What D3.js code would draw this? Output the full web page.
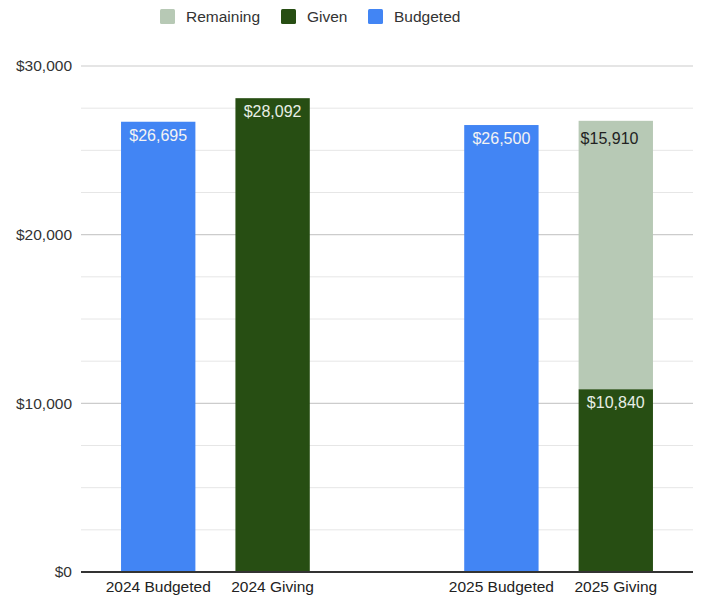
<!DOCTYPE html>
<html><head><meta charset="utf-8">
<script src="https://cdn.jsdelivr.net/npm/d3@7"></script>
<style>body{margin:0;background:#fff;font-family:"Liberation Sans",Arial,sans-serif;}</style>
</head><body><svg id="c" width="701" height="599"></svg>
<script>
const categories = ["2024 Budgeted", "2024 Giving", "", "2025 Budgeted", "2025 Giving"];
const budgeted = [26695, 0, 0, 26500, 0];
const given = [0, 28092, 0, 0, 10840];
const remaining = [0, 0, 0, 0, 15910];
const yTicks = [0, 10000, 20000, 30000];
const minorTicks = [2500, 5000, 7500, 12500, 15000, 17500, 22500, 25000, 27500];
const seriesNames = ["Remaining", "Given", "Budgeted"];
const colors = {Remaining: "#b7c9b5", Given: "#274e13", Budgeted: "#4285f4"};

const svg = d3.select("#c");
const L = 81, R = 693, T = 66, B = 572;
const x = d3.scaleBand().domain(d3.range(categories.length)).range([L, R]).padding(0.35);
const y = d3.scaleLinear().domain([0, 30000]).range([B, T]);
const fmt = v => "$" + d3.format(",")(v);

// gridlines
svg.append("g").selectAll("line").data(minorTicks).join("line")
  .attr("x1", L).attr("x2", R).attr("y1", d => y(d)).attr("y2", d => y(d))
  .attr("stroke", "#e6e6e6").attr("stroke-width", 1);
svg.append("g").selectAll("line").data(yTicks.filter(d => d > 0)).join("line")
  .attr("x1", L).attr("x2", R).attr("y1", d => y(d)).attr("y2", d => y(d))
  .attr("stroke", "#cccccc").attr("stroke-width", 1.2);

// y axis labels
const yAxis = d3.axisLeft(y).tickValues(yTicks).tickFormat(fmt).tickSize(0).tickPadding(9);
const gy = svg.append("g").attr("transform", `translate(${L},0)`).call(yAxis);
gy.select(".domain").remove();
gy.selectAll("text").attr("font-size", 15.5).attr("fill", "#333").attr("font-family", "Liberation Sans, Arial, sans-serif");

// bars
const rows = categories.map((c, i) => ({i, b: budgeted[i], g: given[i], r: remaining[i]}));
const gBars = svg.append("g").attr("font-family", "Liberation Sans, Arial, sans-serif");
rows.forEach(d => {
  if (d.b > 0) {
    gBars.append("rect").attr("x", x(d.i)).attr("width", x.bandwidth())
      .attr("y", y(d.b)).attr("height", y(0) - y(d.b)).attr("fill", colors.Budgeted);
    gBars.append("text").attr("x", x(d.i) + x.bandwidth()/2).attr("y", y(d.b) + 19)
      .attr("text-anchor", "middle").attr("font-size", 16).attr("fill", "#f3f3f3").text(fmt(d.b));
  }
  if (d.g > 0) {
    gBars.append("rect").attr("x", x(d.i)).attr("width", x.bandwidth())
      .attr("y", y(d.g)).attr("height", y(0) - y(d.g)).attr("fill", colors.Given);
    gBars.append("text").attr("x", x(d.i) + x.bandwidth()/2).attr("y", y(d.g) + 19)
      .attr("text-anchor", "middle").attr("font-size", 16).attr("fill", "#e8eee6").text(fmt(d.g));
  }
  if (d.r > 0) {
    const top = d.g + d.r;
    gBars.append("rect").attr("x", x(d.i)).attr("width", x.bandwidth())
      .attr("y", y(top)).attr("height", y(d.g) - y(top)).attr("fill", colors.Remaining);
    gBars.append("text").attr("x", x(d.i) + 2).attr("y", y(top) + 23)
      .attr("text-anchor", "start").attr("font-size", 16).attr("fill", "#222").text(fmt(d.r));
  }
});

// baseline
svg.append("line").attr("x1", L).attr("x2", R).attr("y1", y(0)).attr("y2", y(0))
  .attr("stroke", "#333").attr("stroke-width", 2);

// x labels
const xAxis = d3.axisBottom(x).tickFormat(i => categories[i]).tickSize(0).tickPadding(9);
const gx = svg.append("g").attr("transform", `translate(0,${B})`).call(xAxis);
gx.select(".domain").remove();
gx.selectAll("text").attr("font-size", 15.5).attr("fill", "#222").attr("font-family", "Liberation Sans, Arial, sans-serif");

// legend
const legendX = [160, 281, 368];
const lg = svg.append("g").attr("font-family", "Liberation Sans, Arial, sans-serif");
seriesNames.forEach((n, k) => {
  lg.append("rect").attr("x", legendX[k]).attr("y", 9).attr("width", 15).attr("height", 15)
    .attr("rx", 1.5).attr("fill", colors[n]);
  lg.append("text").attr("x", legendX[k] + 26).attr("y", 22).attr("font-size", 15.5)
    .attr("fill", "#333").text(n);
});
</script></body></html>
